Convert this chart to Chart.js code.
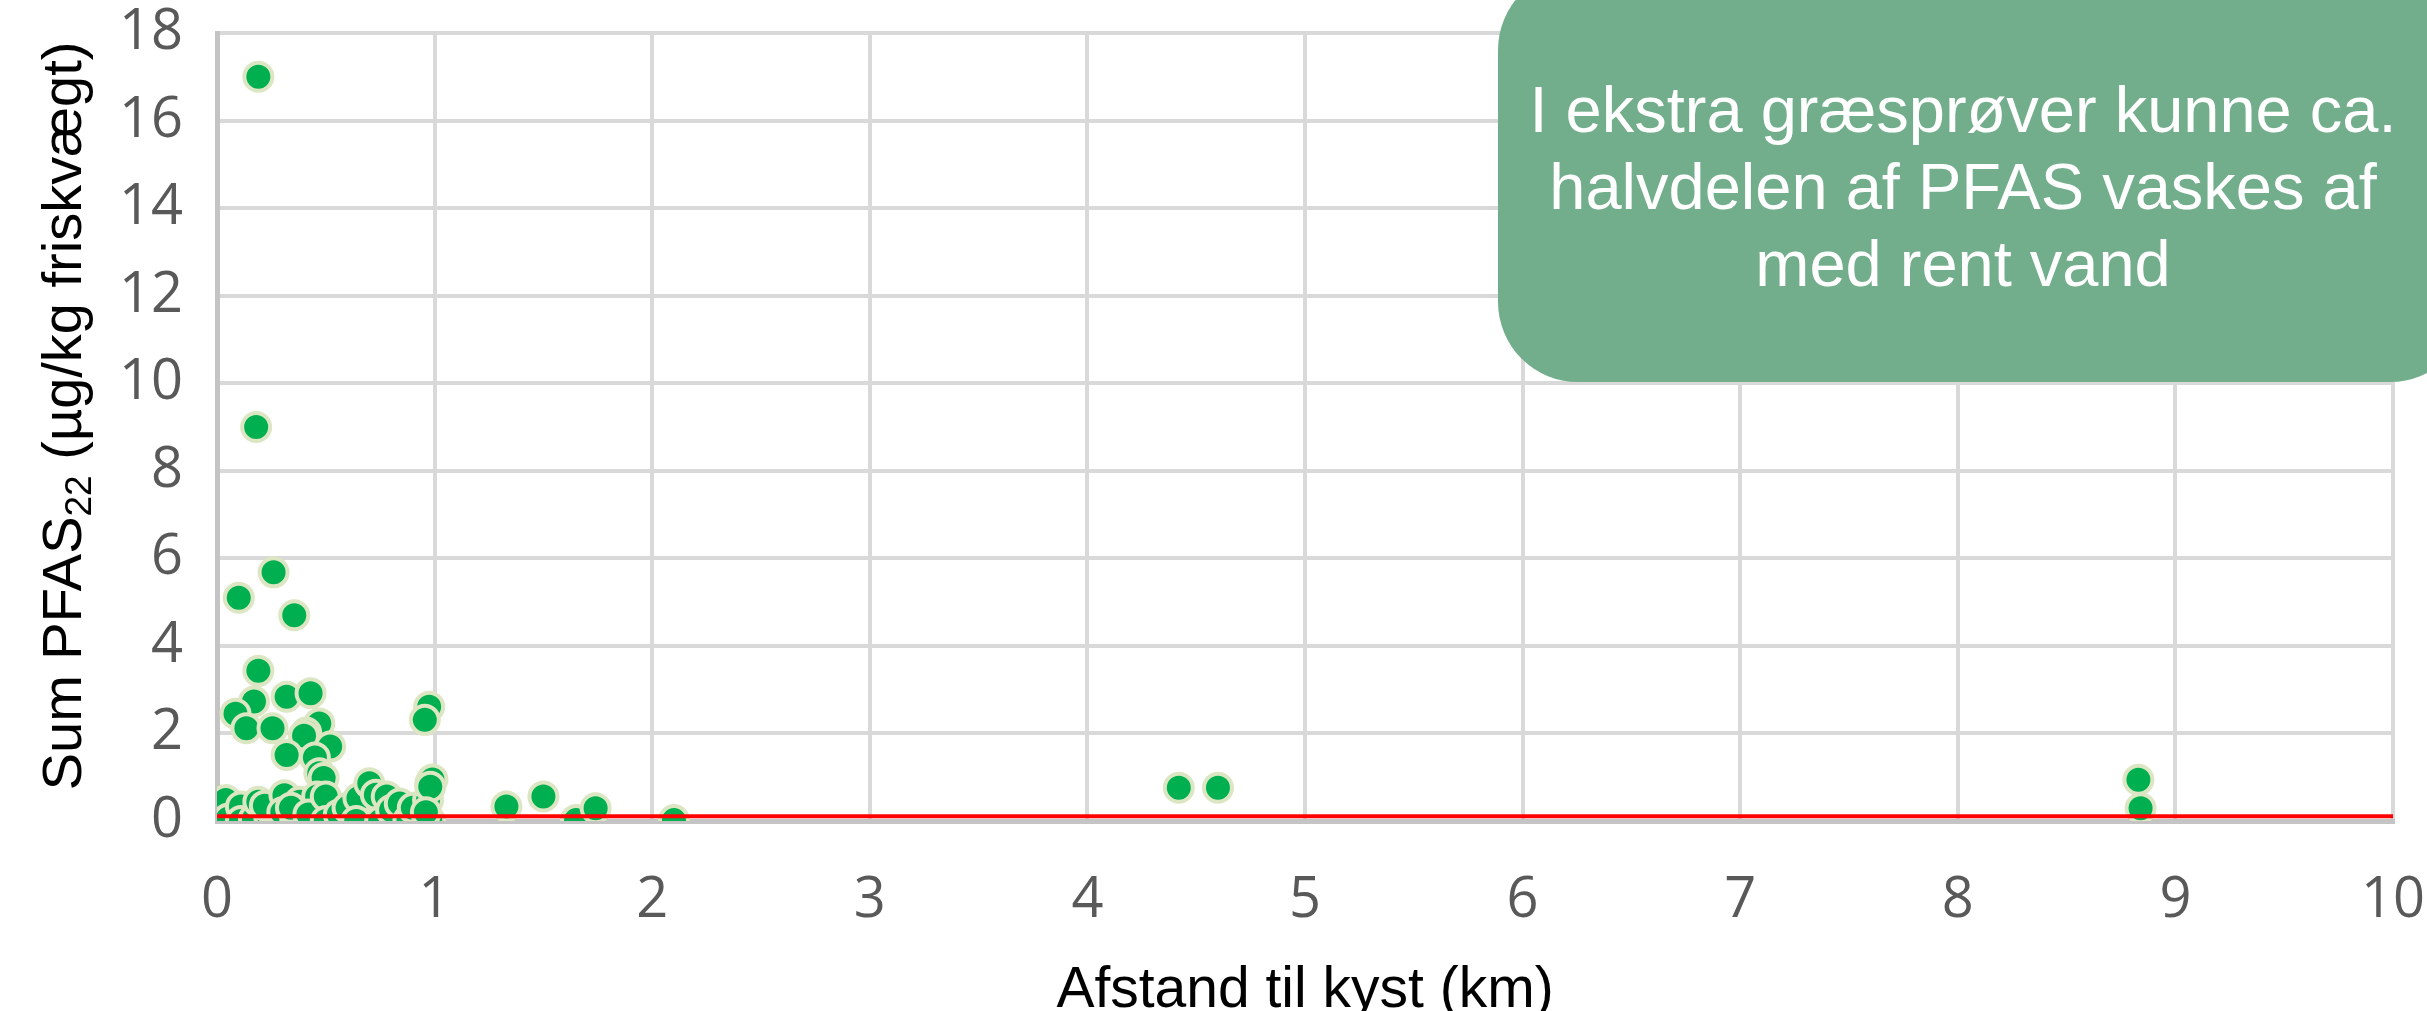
<!DOCTYPE html>
<html lang="da">
<head>
<meta charset="utf-8">
<script src="https://cdn.jsdelivr.net/npm/chart.js@4"></script>
<style>
  html, body { margin: 0; padding: 0; background: #ffffff; }
  #wrap { width: 2427px; height: 1011px; }
</style>
</head>
<body>
<div id="wrap"><canvas id="chart" width="2427" height="1011"></canvas></div>
<script>
// Afstand til kyst (km) for hver græsprøve
const distanceKm = [
  0.19, 0.18, 0.26, 0.10, 0.355, 0.19, 0.17, 0.32, 0.43, 0.085,
  0.135, 0.255, 0.47, 0.41, 0.40, 0.32, 0.52, 0.45, 0.47, 0.49,
  0.975, 0.955,
  0.04, 0.05, 0.11, 0.11, 0.17, 0.19, 0.24, 0.27, 0.22, 0.31,
  0.30, 0.36, 0.38, 0.34, 0.46, 0.46, 0.42, 0.50, 0.50, 0.56,
  0.60, 0.65, 0.64, 0.70, 0.73, 0.78, 0.75, 0.80, 0.84, 0.88,
  0.90, 0.97, 0.98, 0.99, 0.98, 0.98, 0.96,
  1.33, 1.50, 1.65, 1.74, 2.10, 4.42, 4.60, 8.83, 8.84
];
// Sum PFAS22 (µg/kg friskvægt) for samme prøver
const sumPfas = [
  17.0, 9.0, 5.68, 5.1, 4.7, 3.43, 2.73, 2.84, 2.92, 2.45,
  2.12, 2.12, 2.23, 2.02, 1.95, 1.51, 1.70, 1.45, 1.09, 0.98,
  2.61, 2.31,
  0.48, 0.05, 0.33, 0.0, 0.05, 0.44, 0.10, 0.0, 0.35, 0.59,
  0.20, 0.0, 0.44, 0.30, 0.56, 0.0, 0.15, 0.56, 0.0, 0.15,
  0.30, 0.52, 0.0, 0.86, 0.60, 0.56, 0.0, 0.25, 0.40, 0.02,
  0.30, 0.48, 0.86, 0.95, 0.78, 0.0, 0.20,
  0.33, 0.56, 0.02, 0.29, 0.02, 0.76, 0.76, 0.94, 0.29
];
// Vandret referenceniveau (rød linje) over hele afstandsintervallet
const referenceLevel = 0.11;
const referenceSpanKm = [0, 10];

const xTickValues = [0, 1, 2, 3, 4, 5, 6, 7, 8, 9, 10];
const yTickValues = [0, 2, 4, 6, 8, 10, 12, 14, 16, 18];

const xTitle = 'Afstand til kyst (km)';
const yTitleMain = 'Sum PFAS';
const yTitleSub = '22';
const yTitleRest = ' (µg/kg friskvægt)';
const noteLines = [
  'I ekstra græsprøver kunne ca.',
  'halvdelen af PFAS vaskes af',
  'med rent vand'
];

const samplePoints = distanceKm.map((d, i) => ({ x: d, y: sumPfas[i] }));
const referencePoints = referenceSpanKm.map(d => ({ x: d, y: referenceLevel }));

// Lodret aksetitel med sænket "22"
const yTitlePlugin = {
  id: 'yTitle',
  afterDraw(chart) {
    const ctx = chart.ctx;
    const area = chart.chartArea;
    const big = 'normal 56px "Liberation Sans", Arial, sans-serif';
    const small = 'normal 37px "Liberation Sans", Arial, sans-serif';
    ctx.save();
    ctx.font = big;
    const w1 = ctx.measureText(yTitleMain).width;
    const w3 = ctx.measureText(yTitleRest).width;
    ctx.font = small;
    const w2 = ctx.measureText(yTitleSub).width;
    const total = w1 + w2 + w3;
    ctx.translate(81, (area.top + area.bottom) / 2 - 11);
    ctx.rotate(-Math.PI / 2);
    ctx.fillStyle = '#000000';
    ctx.textBaseline = 'alphabetic';
    ctx.textAlign = 'left';
    let x = -total / 2;
    ctx.font = big;
    ctx.fillText(yTitleMain, x, 0);
    x += w1;
    ctx.font = small;
    ctx.fillText(yTitleSub, x, 10);
    x += w2;
    ctx.font = big;
    ctx.fillText(yTitleRest, x, 0);
    ctx.restore();
  }
};

// Grøn tekstboks øverst til højre
const notePlugin = {
  id: 'noteBox',
  afterDraw(chart) {
    const ctx = chart.ctx;
    const box = { left: 1498, top: -30, right: 2470, bottom: 382, r: 80 };
    ctx.save();
    ctx.fillStyle = '#72AE8B';
    ctx.beginPath();
    ctx.roundRect(box.left, box.top, box.right - box.left, box.bottom - box.top, box.r);
    ctx.fill();
    ctx.fillStyle = '#ffffff';
    ctx.font = 'normal 65px "Liberation Sans", Arial, sans-serif';
    ctx.textAlign = 'center';
    ctx.textBaseline = 'alphabetic';
    const cx = 1963;
    noteLines.forEach((line, i) => ctx.fillText(line, cx, 132 + i * 77));
    ctx.restore();
  }
};

const tickFont = { family: '"Open Sans", "Noto Sans", sans-serif', size: 56 };

new Chart(document.getElementById('chart'), {
  type: 'scatter',
  data: {
    datasets: [
      {
        type: 'line',
        data: referencePoints,
        borderColor: '#FF0000',
        borderWidth: 4,
        pointRadius: 0,
        fill: false,
        order: 0
      },
      {
        data: samplePoints,
        backgroundColor: '#00B050',
        borderColor: '#DCE6C2',
        borderWidth: 4,
        pointRadius: 14,
        order: 1
      }
    ]
  },
  options: {
    responsive: false,
    animation: false,
    events: [],
    layout: { padding: { left: 0, right: 34, top: 33, bottom: 0 } },
    plugins: { legend: { display: false }, tooltip: { enabled: false } },
    scales: {
      x: {
        type: 'linear',
        min: 0,
        max: 10,
        afterBuildTicks(scale) { scale.ticks = xTickValues.map(v => ({ value: v })); },
        afterFit(scale) {
          scale.height = 190;
          scale.paddingLeft = 0;
          scale.paddingRight = 0;
        },
        ticks: { font: tickFont, color: '#595959', padding: 46, maxRotation: 0 },
        grid: { color: '#D9D9D9', lineWidth: 4, drawTicks: false },
        border: { color: '#C4C4C4', width: 5 },
        title: {
          display: true,
          text: xTitle,
          color: '#000000',
          font: { family: '"Liberation Sans", Arial, sans-serif', size: 57, lineHeight: 0.68 },
          padding: { top: 0, bottom: 0 }
        }
      },
      y: {
        type: 'linear',
        min: 0,
        max: 18,
        afterBuildTicks(scale) { scale.ticks = yTickValues.map(v => ({ value: v })); },
        afterFit(scale) {
          scale.width = 217;
          scale.paddingTop = 0;
          scale.paddingBottom = 0;
        },
        ticks: { font: tickFont, color: '#595959', padding: 34 },
        grid: { color: '#D9D9D9', lineWidth: 4, drawTicks: false },
        border: { color: '#C4C4C4', width: 5 }
      }
    }
  },
  plugins: [yTitlePlugin, notePlugin]
});
</script>
</body>
</html>
